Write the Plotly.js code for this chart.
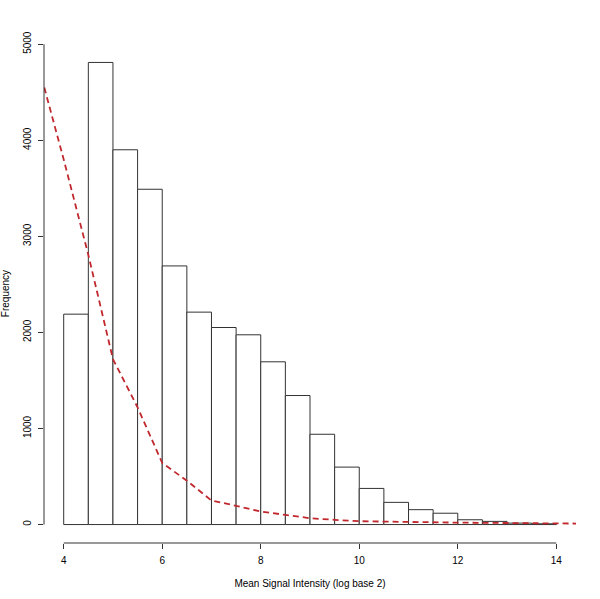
<!DOCTYPE html>
<html>
<head>
<meta charset="utf-8">
<script src="https://cdn.plot.ly/plotly-3.0.1.min.js"></script>
<style>
  body { margin: 0; background: #fff; }
  #plot { width: 600px; height: 599px; }
</style>
</head>
<body>
<div id="plot"></div>
<script>
// histogram bins (left edges) and counts
const binStart = [4, 4.5, 5, 5.5, 6, 6.5, 7, 7.5, 8, 8.5, 9, 9.5, 10, 10.5, 11, 11.5, 12, 12.5, 13, 13.5];
const binWidth = 0.5;
const counts = [2190, 4810, 3901, 3490, 2692, 2211, 2051, 1975, 1694, 1343, 940, 598, 376, 231, 155, 118, 50, 33, 15, 8];

// red dashed reference curve
const curveX = [3.5, 4, 4.5, 5, 5.5, 6, 6.5, 7, 7.5, 8, 8.5, 9, 9.5, 10, 10.5, 11, 11.5, 12, 12.5, 13, 13.5, 14, 14.5];
const curveY = [4750, 3800, 2807, 1722, 1220, 641, 457, 250, 195, 135, 101, 66, 49, 35, 31, 25, 22, 20, 18, 16, 14, 12, 10];

const xTicks = [4, 6, 8, 10, 12, 14];
const yTicks = [0, 1000, 2000, 3000, 4000, 5000];

const mids = binStart.map(b => b + binWidth / 2);

const bars = {
    type: "bar",
    x: mids,
    y: counts,
    width: binWidth,
    marker: {color: "#ffffff", line: {color: "#333333", width: 1}},
    hoverinfo: "x+y"
};

const curve = {
    type: "scatter",
    mode: "lines",
    x: curveX,
    y: curveY,
    line: {color: "#c0282d", width: 1.8, dash: "6px,4px"}
};

const font = {family: "Liberation Sans, Arial, sans-serif", size: 10, color: "#000"};

const layout = {
    width: 600,
    height: 599,
    margin: {l: 44, r: 24, t: 44, b: 56},
    paper_bgcolor: "#fff",
    plot_bgcolor: "#fff",
    showlegend: false,
    bargap: 0,
    font: font,
    xaxis: {
        range: [3.6, 14.4],
        tickvals: xTicks,
        ticktext: xTicks.map(String),
        ticks: "outside",
        ticklen: 5,
        tickcolor: "#333",
        showgrid: false,
        zeroline: false,
        showline: false,
        tickfont: font,
        ticklabelstandoff: 3,
        title: {text: "Mean Signal Intensity (log base 2)", font: font, standoff: 14}
    },
    yaxis: {
        range: [-192, 5002],
        tickvals: yTicks,
        ticktext: yTicks.map(String),
        tickangle: -90,
        ticks: "outside",
        ticklen: 5,
        tickcolor: "#333",
        showgrid: false,
        zeroline: false,
        showline: false,
        tickfont: font,
        ticklabelstandoff: 3,
        title: {text: "Frequency", font: font, standoff: 12}
    },
    // R-style axis lines spanning only the tick range
    shapes: [
        {type: "line", xref: "x", yref: "paper", x0: xTicks[0], x1: xTicks[xTicks.length - 1], y0: 0, y1: 0,
         line: {color: "#333", width: 1}},
        {type: "line", xref: "paper", yref: "y", x0: 0, x1: 0, y0: yTicks[0], y1: yTicks[yTicks.length - 1],
         line: {color: "#333", width: 1}}
    ]
};

Plotly.newPlot("plot", [bars, curve], layout, {displayModeBar: false, staticPlot: true});
</script>
</body>
</html>
